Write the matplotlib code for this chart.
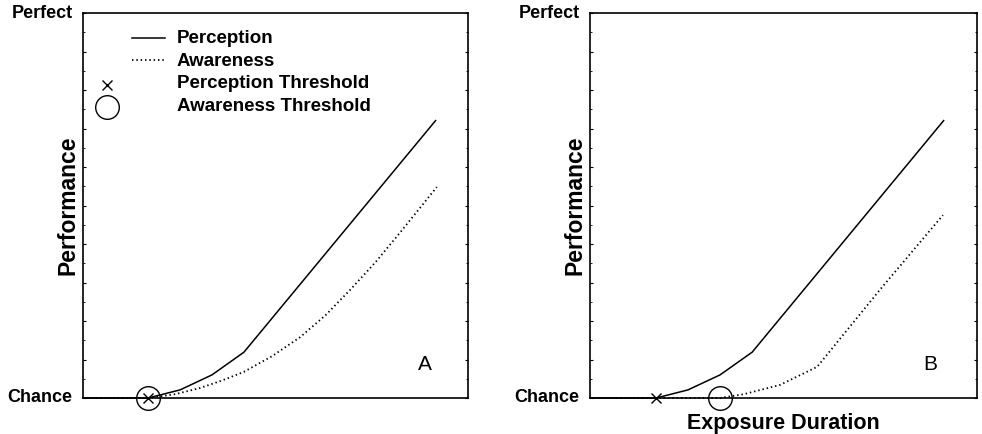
import matplotlib
matplotlib.use("Agg")
import matplotlib.pyplot as plt
from matplotlib.lines import Line2D
from matplotlib.ticker import MultipleLocator

plt.rcParams['font.family'] = ['Liberation Sans', 'DejaVu Sans']

# Panel A: both thresholds at the same exposure duration
a_perc_x = [0.0, 1.69, 2.52, 3.35, 4.18, 9.17]
a_perc_y = [0.0, 0.0, 0.21, 0.60, 1.19, 7.22]
a_aware_x = [0.0, 1.69, 2.4, 3.04, 3.6, 4.18, 4.9, 5.64, 6.3, 6.94, 7.6, 8.23, 9.19]
a_aware_y = [0.0, 0.0, 0.1, 0.26, 0.45, 0.68, 1.08, 1.58, 2.15, 2.81, 3.53, 4.29, 5.48]
a_perc_thr = 1.69
a_aware_thr = 1.69

# Panel B: awareness threshold later than perception threshold
b_perc_x = [0.0, 1.71, 2.53, 3.36, 4.19, 9.15]
b_perc_y = [0.0, 0.0, 0.21, 0.60, 1.19, 7.22]
b_aware_x = [0.0, 3.36, 3.98, 4.91, 5.87, 7.49, 9.12]
b_aware_y = [0.0, 0.0, 0.10, 0.34, 0.81, 2.81, 4.75]
b_perc_thr = 1.71
b_aware_thr = 3.36

legend_labels = ["Perception", "Awareness", "Perception Threshold", "Awareness Threshold"]

DOTS = (0, (0.8, 1.6))

fig = plt.figure(figsize=(9.82, 4.34), dpi=100)
ax_a = fig.add_axes([83 / 982, 36 / 434, 385 / 982, 385 / 434])
ax_b = fig.add_axes([590 / 982, 36 / 434, 387 / 982, 385 / 434])

panels = [
    (ax_a, a_perc_x, a_perc_y, a_aware_x, a_aware_y, a_perc_thr, a_aware_thr, "A", 0.888),
    (ax_b, b_perc_x, b_perc_y, b_aware_x, b_aware_y, b_perc_thr, b_aware_thr, "B", 0.879),
]

for ax, px, py, wx, wy, pthr, wthr, tag, tag_x in panels:
    ax.plot(px, py, color='black', lw=1.1, solid_capstyle='butt', clip_on=False)
    ax.plot(wx, wy, color='black', lw=1.3, linestyle=DOTS, clip_on=False)
    ax.plot([pthr], [0], marker='x', color='black', markersize=7, mew=1.0,
            linestyle='none', clip_on=False, zorder=5)
    ax.plot([wthr], [0], marker='o', markerfacecolor='none', markeredgecolor='black',
            markersize=17, mew=1.0, linestyle='none', clip_on=False, zorder=5)

    ax.set_xlim(0, 10)
    ax.set_ylim(0, 10)
    ax.set_xticks([])
    ax.yaxis.set_major_locator(MultipleLocator(1))
    ax.yaxis.set_minor_locator(MultipleLocator(0.5))
    ax.tick_params(axis='y', which='major', direction='in', length=2.5, width=0.8,
                   left=True, right=True, labelleft=False)
    ax.tick_params(axis='y', which='minor', direction='in', length=1.2, width=0.6,
                   left=True, right=True)
    for sp in ax.spines.values():
        sp.set_linewidth(1.2)

    ax.text(-0.027, 1.0, "Perfect", transform=ax.transAxes, ha='right', va='center',
            fontsize=13, fontweight='bold')
    ax.text(-0.027, 0.0, "Chance", transform=ax.transAxes, ha='right', va='center',
            fontsize=13, fontweight='bold')
    ax.text(-0.038, 0.5, "Performance", transform=ax.transAxes, rotation=90,
            ha='center', va='center', fontsize=16.5, fontweight='bold')
    ax.text(tag_x, 0.086, tag, transform=ax.transAxes, ha='center', va='center',
            fontsize=15)

ax_b.text(0.5, -0.065, "Exposure Duration", transform=ax_b.transAxes, ha='center',
          va='center', fontsize=15.5, fontweight='bold')

# hand-drawn legend in panel A
T = ax_a.transAxes
ax_a.add_line(Line2D([0.127, 0.213], [0.935, 0.935], color='black', lw=1.1, transform=T))
ax_a.add_line(Line2D([0.127, 0.213], [0.878, 0.878], color='black', lw=1.3,
                     linestyle=DOTS, transform=T))
ax_a.plot([0.062], [0.813], marker='x', color='black', markersize=7, mew=1.0,
          transform=T, linestyle='none')
ax_a.plot([0.062], [0.756], marker='o', markerfacecolor='none', markeredgecolor='black',
          markersize=17, mew=1.0, transform=T, linestyle='none')
for label, yy in zip(legend_labels, [0.935, 0.875, 0.818, 0.758]):
    ax_a.text(0.244, yy, label, transform=T, ha='left', va='center',
              fontsize=13.5, fontweight='bold')

fig.savefig("out.png", dpi=100)
